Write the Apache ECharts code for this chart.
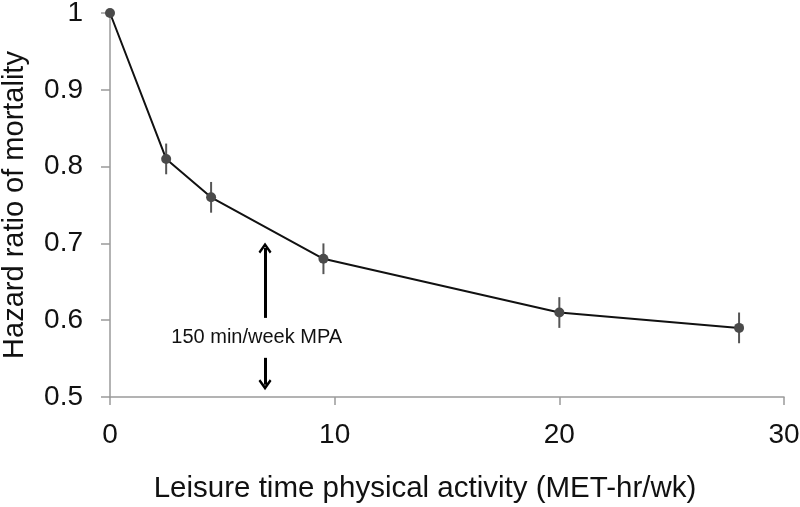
<!DOCTYPE html>
<html>
<head>
<meta charset="utf-8">
<script src="https://cdn.jsdelivr.net/npm/echarts@6/dist/echarts.min.js"></script>
<style>html,body{margin:0;padding:0;background:#fff}#c{width:800px;height:507px}</style>
</head>
<body>
<div id="c"></div>
<script>
var activity = [0, 2.5, 4.5, 9.5, 20, 28];
var hazard = [1.0, 0.81, 0.76, 0.68, 0.61, 0.59];
var errLow = [null, 0.79, 0.74, 0.66, 0.59, 0.57];
var errHigh = [null, 0.83, 0.78, 0.70, 0.63, 0.61];
var xTicks = [0, 10, 20, 30];
var yTicks = [0.5, 0.6, 0.7, 0.8, 0.9, 1];
var guideX = 6.9;
var upArrow = [0.603, 0.694];
var downArrow = [0.551, 0.516];
var noteText = '150 min/week MPA';
var notePos = [6.53, 0.578];
var xTitle = 'Leisure time physical activity (MET-hr/wk)';
var yTitle = 'Hazard ratio of mortality';

var chart = echarts.init(document.getElementById('c'));
var font = '"Liberation Sans", Arial, sans-serif';
var axisGray = '#9a9a9a';
var chevron = 'path://M0,0 L6,7.2 L4.4,8.6 L0,3.4 L-4.4,8.6 L-6,7.2 Z';

var lineData = activity.map(function (x, i) { return [x, hazard[i]]; });
var errData = [];
activity.forEach(function (x, i) {
  if (errLow[i] != null) errData.push([x, errLow[i], errHigh[i]]);
});

chart.setOption({
  animation: false,
  grid: { left: 110, right: 16, top: 13, bottom: 110, containLabel: false, outerBoundsMode: 'none' },
  xAxis: {
    type: 'value', min: xTicks[0], max: xTicks[xTicks.length - 1], interval: 10,
    splitLine: { show: false },
    axisLine: { lineStyle: { color: axisGray, width: 1.5 } },
    axisTick: { show: true, length: 8, lineStyle: { color: axisGray, width: 1.5 } },
    axisLabel: { fontFamily: font, fontSize: 28, color: '#111', margin: 24 },
    name: xTitle, nameLocation: 'middle', nameGap: 77,
    nameTextStyle: { fontFamily: font, fontSize: 29.5, color: '#111', padding: [0, 44, 0, 0] }
  },
  yAxis: {
    type: 'value', min: yTicks[0], max: yTicks[yTicks.length - 1], interval: 0.1,
    splitLine: { show: false },
    axisLine: { show: true, lineStyle: { color: axisGray, width: 1.5 } },
    axisTick: { show: true, length: 9, lineStyle: { color: axisGray, width: 1.5 } },
    axisLabel: { fontFamily: font, fontSize: 28, color: '#111', margin: 27 },
    name: yTitle, nameLocation: 'middle', nameGap: 81,
    nameTextStyle: { fontFamily: font, fontSize: 29, color: '#111' }
  },
  series: [
    {
      type: 'custom',
      data: errData,
      z: 2,
      renderItem: function (params, api) {
        var x = api.value(0);
        var lo = api.coord([x, api.value(1)]);
        var hi = api.coord([x, api.value(2)]);
        return {
          type: 'line',
          shape: { x1: lo[0], y1: lo[1], x2: hi[0], y2: hi[1] },
          style: { stroke: '#555', lineWidth: 2 }
        };
      }
    },
    {
      type: 'line',
      data: lineData,
      z: 3,
      symbol: 'circle', symbolSize: 10,
      itemStyle: { color: '#4a4a4a' },
      lineStyle: { color: '#111', width: 2 },
      markLine: {
        silent: true,
        symbol: ['none', chevron],
        symbolSize: [13, 11],
        label: { show: false },
        lineStyle: { color: '#000', width: 3, type: 'solid' },
        data: [
          [{ coord: [guideX, upArrow[0]] }, { coord: [guideX, upArrow[1]] }],
          [{ coord: [guideX, downArrow[0]] }, { coord: [guideX, downArrow[1]] }]
        ]
      },
      markPoint: {
        silent: true,
        symbol: 'circle',
        symbolSize: 1,
        itemStyle: { color: 'rgba(0,0,0,0)' },
        data: [{ coord: notePos, name: noteText }],
        label: { show: true, formatter: noteText, position: 'inside', fontFamily: font, fontSize: 20, color: '#111' }
      }
    }
  ]
});
</script>
</body>
</html>
